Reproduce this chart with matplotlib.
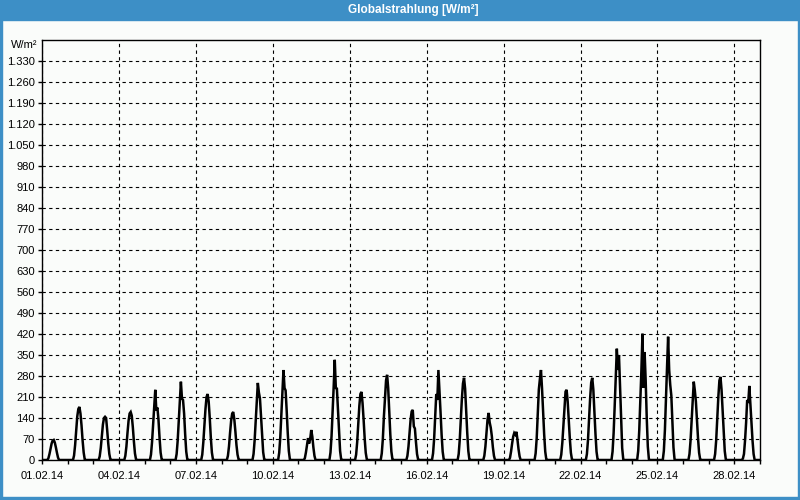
import numpy as np
import matplotlib
matplotlib.use('Agg')
import matplotlib.pyplot as plt
from matplotlib.ticker import FuncFormatter, MultipleLocator

# hourly readings (W/m²) for 05:00 .. 19:00 of every day in February 2014
hours = [5, 6, 7, 8, 9, 10, 11, 12, 13, 14, 15, 16, 17, 18, 19]

d01 = [0, 6, 20, 38, 55, 65, 67, 58, 42, 24, 8, 0, 0, 0, 0]
d02 = [0, 15, 50, 100, 145, 170, 177, 155, 115, 65, 25, 2, 0, 0, 0]
d03 = [0, 12, 40, 80, 118, 140, 144, 140, 100, 55, 20, 2, 0, 0, 0]
d04 = [0, 14, 45, 90, 130, 155, 160, 148, 110, 62, 22, 2, 0, 0, 0]
d05 = [0, 18, 60, 120, 180, 234, 165, 175, 135, 75, 25, 2, 0, 0, 0]
d06 = [0, 20, 65, 130, 200, 261, 205, 200, 155, 85, 28, 2, 0, 0, 0]
d07 = [0, 18, 60, 115, 170, 210, 220, 195, 140, 75, 25, 2, 0, 0, 0]
d08 = [0, 14, 45, 90, 130, 155, 160, 135, 95, 50, 18, 2, 0, 0, 0]
d09 = [0, 20, 65, 130, 200, 257, 225, 205, 145, 80, 26, 2, 0, 0, 0]
d10 = [0, 24, 75, 150, 225, 300, 240, 232, 165, 90, 30, 2, 0, 0, 0]
d11 = [0, 6, 25, 50, 73, 55, 70, 100, 78, 42, 14, 0, 0, 0, 0]
d12 = [0, 25, 80, 160, 245, 334, 240, 238, 168, 92, 30, 2, 0, 0, 0]
d13 = [0, 18, 60, 120, 180, 220, 227, 190, 135, 72, 24, 2, 0, 0, 0]
d14 = [0, 22, 70, 145, 205, 265, 284, 240, 160, 85, 28, 2, 0, 0, 0]
d15 = [0, 14, 45, 90, 135, 162, 167, 112, 105, 60, 20, 2, 0, 0, 0]
d16 = [0, 22, 70, 145, 220, 200, 300, 232, 160, 85, 28, 2, 0, 0, 0]
d17 = [0, 20, 68, 135, 205, 255, 274, 238, 165, 90, 30, 2, 0, 0, 0]
d18 = [0, 14, 45, 90, 135, 157, 125, 108, 80, 42, 14, 0, 0, 0, 0]
d19 = [0, 7, 28, 55, 78, 90, 85, 94, 68, 36, 12, 0, 0, 0, 0]
d20 = [0, 22, 72, 150, 235, 270, 300, 238, 160, 85, 28, 2, 0, 0, 0]
d21 = [0, 18, 58, 115, 175, 228, 234, 195, 135, 72, 24, 2, 0, 0, 0]
d22 = [0, 20, 66, 135, 205, 258, 274, 235, 160, 88, 28, 2, 0, 0, 0]
d23 = [0, 28, 90, 180, 280, 371, 300, 350, 245, 130, 40, 3, 0, 0, 0]
d24 = [0, 30, 100, 200, 300, 421, 240, 360, 265, 140, 45, 3, 0, 0, 0]
d25 = [0, 30, 100, 200, 310, 411, 300, 250, 215, 130, 42, 3, 0, 0, 0]
d26 = [0, 20, 65, 130, 200, 261, 232, 195, 135, 72, 24, 2, 0, 0, 0]
d27 = [0, 20, 66, 135, 210, 265, 277, 235, 165, 90, 30, 2, 0, 0, 0]
d28 = [0, 0, 0, 5, 20, 65, 125, 200, 190, 247, 185, 125, 65, 20, 0]

days = [d01, d02, d03, d04, d05, d06, d07, d08, d09, d10, d11, d12, d13, d14,
        d15, d16, d17, d18, d19, d20, d21, d22, d23, d24, d25, d26, d27, d28]

date_labels = ['01.02.14', '04.02.14', '07.02.14', '10.02.14', '13.02.14',
               '16.02.14', '19.02.14', '22.02.14', '25.02.14', '28.02.14']


def main():
    plt.rcParams['font.family'] = ['Liberation Sans', 'DejaVu Sans']
    bg = '#fafcfa'
    blue = '#3d8fc6'

    # time axis in days since 01.02.14 00:00
    t = [0.0]
    v = [0.0]
    for i, prof in enumerate(days):
        for h, val in zip(hours, prof):
            t.append(i + h / 24.0)
            v.append(val)
    t.append(28.0)
    v.append(0.0)

    fig = plt.figure(figsize=(8, 5), dpi=100, facecolor=bg)

    # title bar and window frame
    fig.patches.append(plt.Rectangle((0, 1 - 20 / 500), 1, 20 / 500, transform=fig.transFigure,
                                     color=blue, zorder=0))
    for rect in [(0, 0, 2 / 800, 1), (1 - 2 / 800, 0, 2 / 800, 1), (0, 0, 1, 3 / 500)]:
        fig.patches.append(plt.Rectangle(rect[:2], rect[2], rect[3], transform=fig.transFigure,
                                         color=blue, zorder=0))
    fig.text(413 / 800, 1 - 10 / 500, 'Globalstrahlung [W/m²]', color='white', fontsize=8.5,
             fontweight='bold', ha='center', va='center')

    ax = fig.add_axes([42 / 800, 1 - 460 / 500, 718 / 800, 420 / 500])
    ax.set_facecolor(bg)
    ax.plot(t, v, color='black', linewidth=1.8, solid_joinstyle='miter', zorder=3)

    ax.set_xlim(0, 28)
    ax.set_ylim(0, 1400)

    ax.set_yticks(np.arange(0, 1400, 70))
    ax.yaxis.set_major_formatter(FuncFormatter(lambda y, p: '{:,.0f}'.format(y).replace(',', '.')))
    ax.set_xticks(np.arange(0, 28, 3))
    ax.set_xticklabels(date_labels)
    ax.xaxis.set_minor_locator(MultipleLocator(1))

    ax.tick_params(axis='both', which='both', direction='out', length=3, width=1,
                   labelsize=8, colors='black', pad=2)
    ax.tick_params(axis='x', pad=5)

    ax.grid(True, which='major', color='black', linestyle=(0, (3, 3)), linewidth=0.8)
    for s in ax.spines.values():
        s.set_color('black')
        s.set_linewidth(1)

    ax.text(-0.006, 1382, 'W/m²', transform=ax.get_yaxis_transform(), ha='right', va='center',
            fontsize=8)

    plt.savefig('out.png', dpi=100, facecolor=bg)


if __name__ == '__main__':
    main()
